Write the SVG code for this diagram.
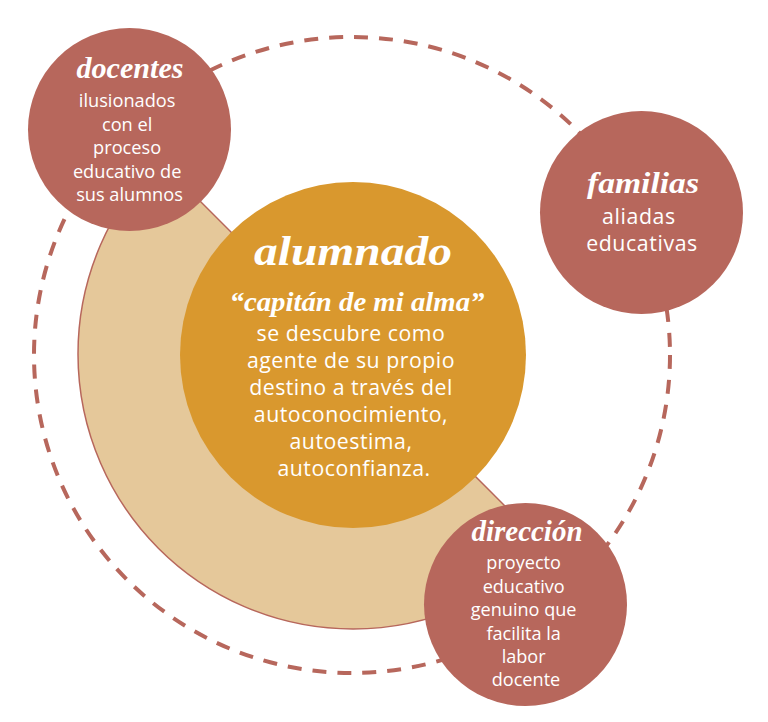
<svg xmlns="http://www.w3.org/2000/svg" width="768" height="722" viewBox="0 0 768 722">
  <style>
    .node { fill: #b7675c; }
    .title { font-family: "Liberation Serif", "DejaVu Serif", serif; font-weight: bold; font-style: italic; fill: #ffffff; text-anchor: middle; }
    .body { font-family: "Open Sans", "Noto Sans", sans-serif; fill: #ffffff; text-anchor: middle; }
    .ring { fill: none; stroke: #b7675c; stroke-width: 4; stroke-dasharray: 14 11; }
  </style>
  <rect width="768" height="722" fill="#ffffff"/>
  <g id="connectors">
    <circle class="ring" cx="352" cy="355" r="318"/>
  </g>
  <g id="halo">
    <path d="M 547.5 548.5 A 275 275 0 0 1 158.5 159.5 Z" fill="#e5c89a" stroke="#b7675c" stroke-width="1.5"/>
  </g>
  <g id="alumnado">
    <circle cx="353" cy="355" r="173" fill="#d9982e"/>
    <text class="title" x="353" y="265" font-size="42" textLength="198" lengthAdjust="spacingAndGlyphs">alumnado</text>
    <text class="title" x="357" y="311" font-size="28" textLength="255" lengthAdjust="spacingAndGlyphs">“capitán de mi alma”</text>
    <text class="body" font-size="21.3" letter-spacing="0.5">
      <tspan x="354" y="341">se descubre como</tspan>
      <tspan x="354" y="368">agente de su propio</tspan>
      <tspan x="354" y="395">destino a través del</tspan>
      <tspan x="354" y="422">autoconocimiento,</tspan>
      <tspan x="354" y="449">autoestima,</tspan>
      <tspan x="354" y="476">autoconfianza.</tspan>
    </text>
  </g>
  <g id="docentes">
    <circle class="node" cx="129.5" cy="129.5" r="101.5"/>
    <text class="title" x="130" y="78" font-size="29" textLength="107" lengthAdjust="spacingAndGlyphs">docentes</text>
    <text class="body" font-size="18.2">
      <tspan x="129.5" y="107">ilusionados</tspan>
      <tspan x="129.5" y="130.5">con el</tspan>
      <tspan x="129.5" y="154">proceso</tspan>
      <tspan x="129.5" y="177.5">educativo de</tspan>
      <tspan x="129.5" y="201">sus alumnos</tspan>
    </text>
  </g>
  <g id="familias">
    <circle class="node" cx="641.5" cy="212.5" r="101.5"/>
    <text class="title" x="643" y="193" font-size="30" textLength="112" lengthAdjust="spacingAndGlyphs">familias</text>
    <text class="body" font-size="21.3" letter-spacing="0.6">
      <tspan x="642" y="224">aliadas</tspan>
      <tspan x="642" y="251">educativas</tspan>
    </text>
  </g>
  <g id="direccion">
    <circle class="node" cx="525.5" cy="604.5" r="101.5"/>
    <text class="title" x="527" y="541" font-size="29" textLength="111" lengthAdjust="spacingAndGlyphs">dirección</text>
    <text class="body" font-size="18.1">
      <tspan x="526" y="569">proyecto</tspan>
      <tspan x="526" y="592.5">educativo</tspan>
      <tspan x="526" y="616">genuino que</tspan>
      <tspan x="526" y="639.5">facilita la</tspan>
      <tspan x="526" y="663">labor</tspan>
      <tspan x="526" y="686">docente</tspan>
    </text>
  </g>
</svg>
